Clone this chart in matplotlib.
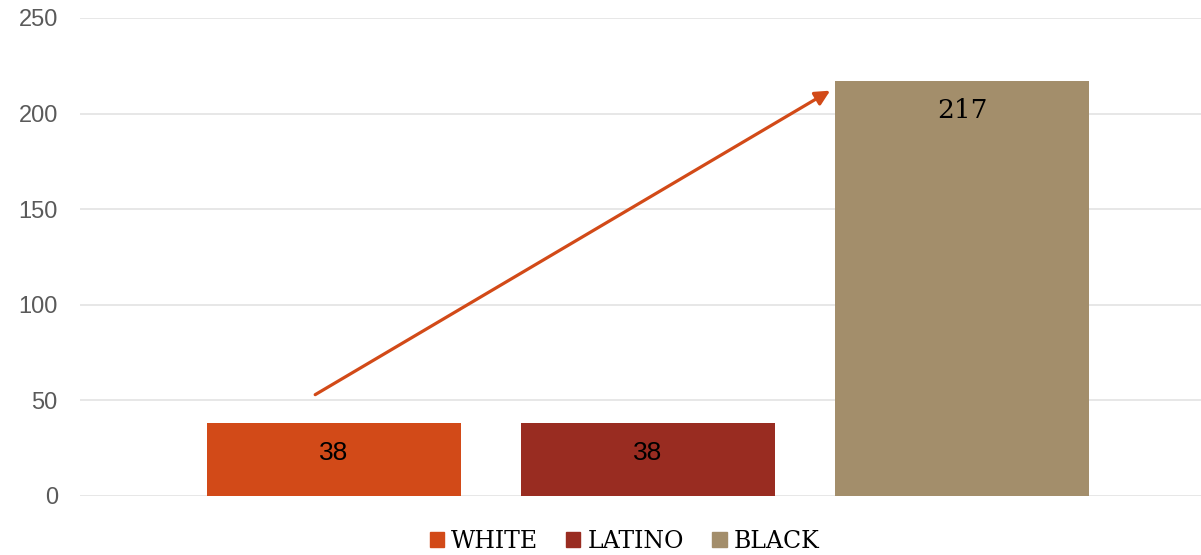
import matplotlib
matplotlib.use('Agg')
import matplotlib.pyplot as plt
import matplotlib.patches as mpatches

categories = ['WHITE', 'LATINO', 'BLACK']
values = [38, 38, 217]
colors = ['#D24A18', '#992C21', '#A38E6B']
yticks = [0, 50, 100, 150, 200, 250]

fig = plt.figure(figsize=(12.01, 5.55), dpi=100)
ax = fig.add_axes([80 / 1201, 59 / 555, 1 - 80 / 1201, 478 / 555])

x = range(len(categories))
bars = ax.bar(x, values, width=0.81, color=colors, zorder=2,
              edgecolor='none')

# value labels inside the bar tops
label_fonts = ['Liberation Sans', 'Liberation Sans', 'DejaVu Serif']
for xi, v, fam in zip(x, values, label_fonts):
    ax.annotate(f"{v}", (xi, v), xytext=(0, -21), textcoords='offset points',
                ha='center', va='center', fontsize=19, family=fam,
                color='black', zorder=3)

# trend arrow
ax.annotate('', xy=(1.58, 212), xytext=(-0.06, 53),
            arrowprops=dict(arrowstyle='-|>', color='#D24A18', lw=2.3,
                            mutation_scale=22, shrinkA=0, shrinkB=0),
            zorder=4)

ax.set_xlim(-0.809, 2.761)
ax.set_ylim(0, 250)
ax.set_yticks(yticks)
ax.set_xticks([])
ax.yaxis.grid(True, color='#E3E3E3', linewidth=1.2, zorder=0)
ax.set_axisbelow(True)
for s in ax.spines.values():
    s.set_visible(False)
ax.tick_params(axis='y', length=0, pad=16, labelsize=17, labelcolor='#5A5A5A')
for t in ax.get_yticklabels():
    t.set_family('Liberation Sans')

handles = [mpatches.Patch(color=c, label=l) for c, l in zip(colors, categories)]
fig.legend(handles=handles, loc='lower center', bbox_to_anchor=(0.52, -0.035),
           ncol=3, frameon=False, handlelength=0.6, handleheight=0.6,
           handletextpad=0.3, columnspacing=1.2,
           prop={'family': 'DejaVu Serif', 'size': 17})

fig.savefig('out.png', dpi=100)
